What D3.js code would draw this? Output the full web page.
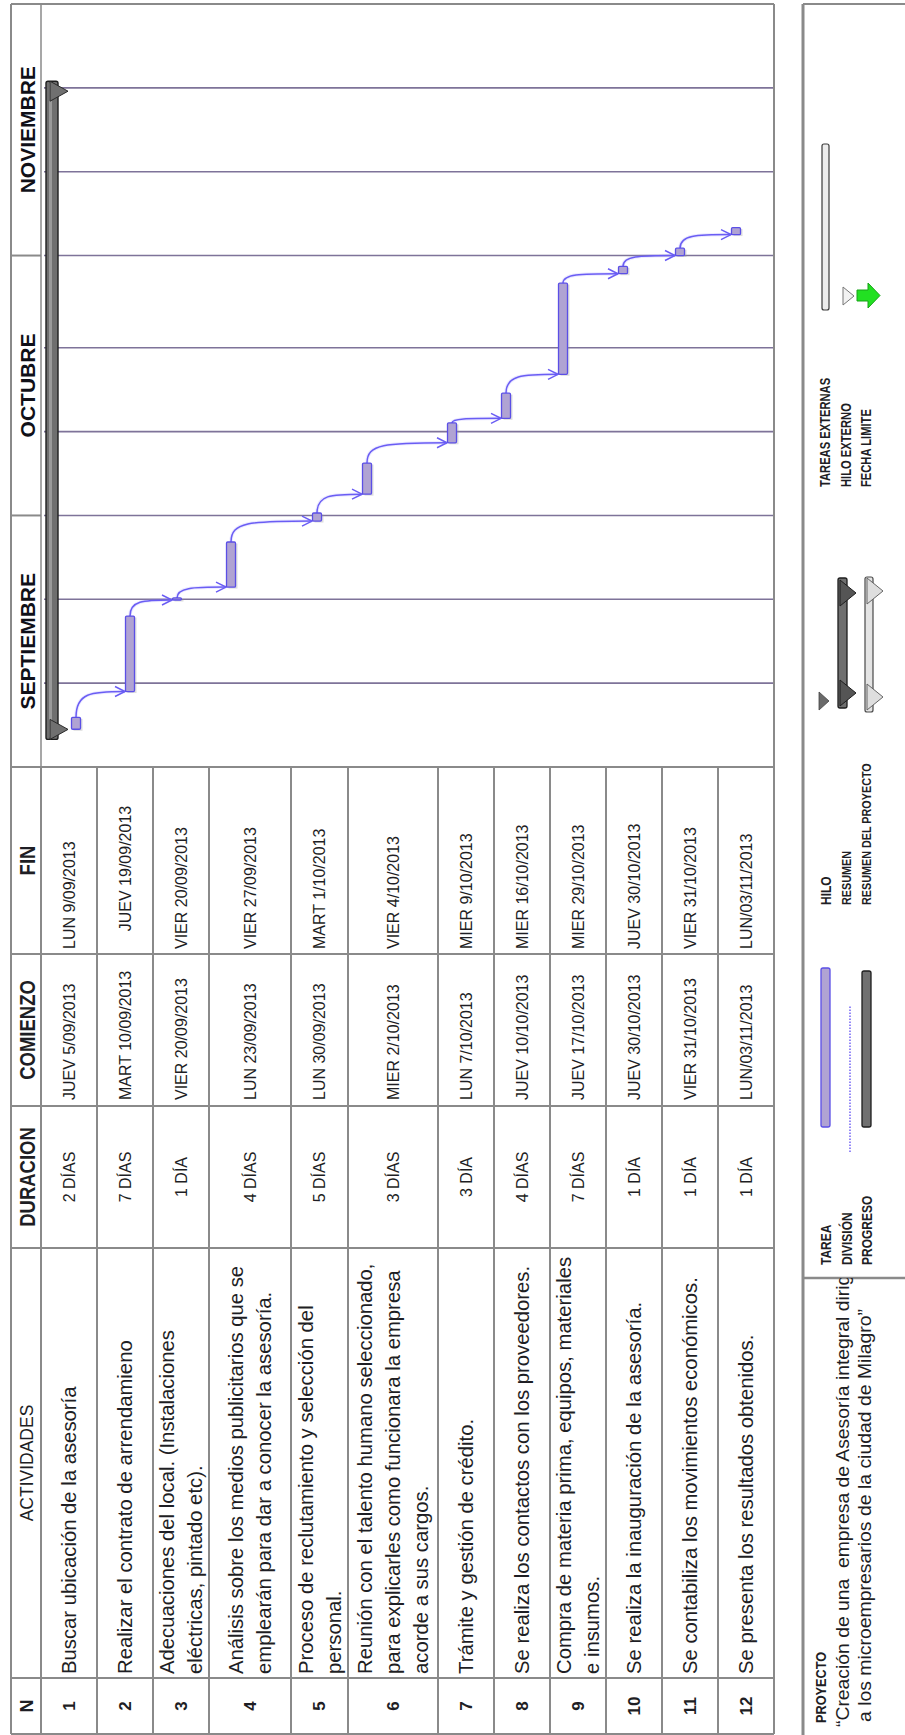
<!DOCTYPE html>
<html>
<head>
<meta charset="utf-8">
<script src="https://cdn.jsdelivr.net/npm/d3@7"></script>
<style>
  body { margin: 0; background: #fff; }
  svg { display: block; }
</style>
</head>
<body>
<svg id="chart" width="905" height="1735"></svg>
<script>
// ---------------- data ----------------
const taskNums = [1, 2, 3, 4, 5, 6, 7, 8, 9, 10, 11, 12];
const activities = [
  ["Buscar ubicación de la asesoría"],
  ["Realizar el contrato de arrendamieno"],
  ["Adecuaciones del local. (Instalaciones", "eléctricas, pintado etc)."],
  ["Análisis sobre los medios publicitarios que se", "emplearán para dar a conocer la asesoría."],
  ["Proceso de reclutamiento y selección del", "personal."],
  ["Reunión con el talento humano seleccionado,", "para explicarles como funcionara la empresa", "acorde a sus cargos."],
  ["Trámite y gestión de crédito."],
  ["Se realiza los contactos con los proveedores."],
  ["Compra de materia prima, equipos, materiales", "e insumos."],
  ["Se realiza la inauguración de la asesoría."],
  ["Se contabiliza los movimientos económicos."],
  ["Se presenta los resultados obtenidos."]
];
const durations = ["2 DÍAS", "7 DÍAS", "1 DÍA", "4 DÍAS", "5 DÍAS", "3 DÍAS", "3 DÍA", "4 DÍAS", "7 DÍAS", "1 DÍA", "1 DÍA", "1 DÍA"];
const startLabels = ["JUEV 5/09/2013", "MART 10/09/2013", "VIER 20/09/2013", "LUN 23/09/2013", "LUN 30/09/2013", "MIER 2/10/2013",
  "LUN 7/10/2013", "JUEV 10/10/2013", "JUEV 17/10/2013", "JUEV 30/10/2013", "VIER 31/10/2013", "LUN/03/11/2013"];
const endLabels = ["LUN 9/09/2013", "    JUEV 19/09/2013", "VIER 20/09/2013", "VIER 27/09/2013", "MART 1/10/2013", "VIER 4/10/2013",
  "MIER 9/10/2013", "MIER 16/10/2013", "MIER 29/10/2013", "JUEV 30/10/2013", "VIER 31/10/2013", "LUN/03/11/2013"];
const headers = ["N", "ACTIVIDADES", "DURACION", "COMIENZO", "FIN"];

// Gantt bars as plotted on the timeline
const barStart = ["2013-09-05T12:00", "2013-09-10T00:00", "2013-09-20T22:00", "2013-09-22T11:00", "2013-09-30T08:00", "2013-10-03T13:00",
  "2013-10-09T16:00", "2013-10-12T14:00", "2013-10-17T20:00", "2013-10-29T20:00", "2013-11-01T00:00", "2013-11-03T12:00"];
const barEnd = ["2013-09-06T22:00", "2013-09-19T00:00", "2013-09-21T04:00", "2013-09-27T20:00", "2013-10-01T07:00", "2013-10-07T06:00",
  "2013-10-12T01:00", "2013-10-15T14:00", "2013-10-28T17:00", "2013-10-30T17:00", "2013-11-01T21:00", "2013-11-04T08:00"];
const summaryStart = "2013-09-04T07:00";
const summaryEnd = "2013-11-21T19:00";

const months = ["SEPTIEMBRE", "OCTUBRE", "NOVIEMBRE"];
const gridDays = [1, 11, 21];   // timescale divided in thirds of month

const legendCol1 = ["TAREA", "DIVISIÓN", "PROGRESO"];
const legendCol2 = ["HILO", "RESUMEN", "RESUMEN DEL PROYECTO"];
const legendCol3 = ["TAREAS EXTERNAS", "HILO EXTERNO", "FECHA LIMITE"];
const projectTitle = "PROYECTO";
const projectLines = ["“Creación de una  empresa de Asesoría integral dirigida", "a los microempresarios de la ciudad de Milagro”"];

// ---------------- layout ----------------
const PAGE_W = 905, PAGE_H = 1735;
const FONT = "'Liberation Sans', Arial, sans-serif";
const INK = "#1e1e24";
const GRID = "#8a8a8a";
const colEdges = [1, 57, 487, 629, 781, 968];       // table columns along the page length
const headerTop = 11, headerBottom = 41;
const rowHeights = [56, 56, 56, 82, 57, 90, 56, 56, 56, 56, 56, 56];
const ganttRight = 1731;
const laneCenters = [76, 130, 177, 231, 317, 367, 452, 506, 563, 623, 680, 736];
const barThick = 9;

const svg = d3.select("#chart");
// the whole sheet is laid out landscape and turned a quarter turn
const g = svg.append("g").attr("transform", `translate(0,${PAGE_H}) rotate(-90)`);

const rowEdges = [headerBottom];
rowHeights.forEach(h => rowEdges.push(rowEdges[rowEdges.length - 1] + h));
const tableBottom = rowEdges[rowEdges.length - 1];

const x = d3.scaleTime()
  .domain([new Date(2013, 8, 1), new Date(2013, 11, 1)])
  .range([colEdges[5], ganttRight]);
const lane = d3.scaleOrdinal(taskNums, laneCenters);
const parse = d3.isoParse;

function label(sel, s, px, py, o = {}) {
  const t = sel.append("text")
    .attr("transform", `translate(${px},${py}) scale(${o.sx || 1},1)`)
    .attr("text-anchor", o.anchor || "start")
    .attr("dominant-baseline", "central")
    .style("font-family", o.family || FONT)
    .style("font-size", (o.size || 16) + "px")
    .style("font-weight", o.weight || "normal")
    .style("white-space", "pre")
    .attr("fill", o.fill || INK)
    .text(s);
  if (o.len) t.attr("textLength", o.len).attr("lengthAdjust", "spacingAndGlyphs");
  return t;
}
function line(sel, x1, y1, x2, y2, stroke, w) {
  return sel.append("line").attr("x1", x1).attr("y1", y1).attr("x2", x2).attr("y2", y2)
    .attr("stroke", stroke).attr("stroke-width", w);
}

// ---------------- table ----------------
const table = g.append("g");
rowEdges.forEach(r => line(table, colEdges[0], r, colEdges[5], r, GRID, 2));
line(table, colEdges[0], headerTop, ganttRight, headerTop, GRID, 2);
line(table, colEdges[0], tableBottom, ganttRight, tableBottom, GRID, 2);
colEdges.forEach(c => line(table, c, headerTop, c, tableBottom, GRID, 2));
line(table, ganttRight, headerTop, ganttRight, tableBottom, GRID, 2);

const colMid = i => (colEdges[i] + colEdges[i + 1]) / 2;
const hMid = (headerTop + headerBottom) / 2 + 1;
label(table, headers[0], colMid(0), hMid, { anchor: "middle", size: 18, weight: "bold" });
label(table, headers[1], colMid(1), hMid, { anchor: "middle", size: 17.5 });
label(table, headers[2], colMid(2), hMid, { anchor: "middle", size: 21.5, weight: "bold", sx: 0.86 });
label(table, headers[3], colMid(3), hMid, { anchor: "middle", size: 21.5, weight: "bold", sx: 0.86 });
label(table, headers[4], colMid(4), hMid, { anchor: "middle", size: 21.5, weight: "bold", sx: 0.86 });

taskNums.forEach((n, i) => {
  const cy = (rowEdges[i] + rowEdges[i + 1]) / 2;
  label(table, String(n), colMid(0), cy, { anchor: "middle", size: 17, weight: "bold" });
  const lines = activities[i];
  const lh = 28;
  lines.forEach((s, k) => {
    label(table, s, colEdges[1] + 4, cy + (k - (lines.length - 1) / 2) * lh, { size: 20.3 });
  });
  label(table, durations[i], colMid(2), cy, { anchor: "middle", size: 16 });
  label(table, startLabels[i], colEdges[3] + 6, cy, { size: 16 });
  label(table, endLabels[i], colEdges[4] + 5, cy, { size: 16 });
});

// ---------------- gantt ----------------
const gantt = g.append("g");
line(gantt, colEdges[5], headerBottom, ganttRight, headerBottom, GRID, 1.5);

const monthStarts = d3.timeMonth.range(new Date(2013, 8, 1), new Date(2013, 11, 1));
monthStarts.forEach((m, i) => {
  const next = d3.timeMonth.offset(m, 1);
  if (i > 0) line(gantt, x(m), headerTop, x(m), headerBottom, GRID, 2);
  label(gantt, months[i], (x(m) + x(next)) / 2, hMid, { anchor: "middle", size: 21, weight: "bold", fill: "#101018" });
});

// thirds-of-month grid
const gridDates = [];
monthStarts.forEach(m => gridDays.forEach(d => gridDates.push(new Date(m.getFullYear(), m.getMonth(), d))));
gantt.selectAll("line.grid")
  .data(gridDates.filter(d => d > x.domain()[0]))
  .join("line").attr("class", "grid")
  .attr("x1", d => x(d)).attr("x2", d => x(d))
  .attr("y1", headerBottom + 3).attr("y2", tableBottom - 1)
  .attr("stroke", "#7e7399").attr("stroke-width", 1.6);

// project summary bar
const sX0 = x(parse(summaryStart)), sX1 = x(parse(summaryEnd));
const sumY = 46, sumH = 12;
gantt.append("rect").attr("x", sX0).attr("y", sumY).attr("width", sX1 - sX0).attr("height", sumH)
  .attr("rx", 2).attr("fill", "#6f6f6f").attr("stroke", "#1e1e1e").attr("stroke-width", 1.4);
gantt.append("rect").attr("x", sX0 + 2).attr("y", sumY + 3).attr("width", sX1 - sX0 - 4).attr("height", 3)
  .attr("fill", "#9a9a9a");
[sX0, sX1 - 20].forEach(t0 => {
  gantt.append("path")
    .attr("d", `M${t0},${sumY + 4} L${t0 + 20},${sumY + 4} L${t0 + 10},${sumY + 22} Z`)
    .attr("fill", "#707070").attr("stroke", "#2a2a2a").attr("stroke-width", 1);
});

// task bars
const bars = taskNums.map((n, i) => ({
  n, x0: x(parse(barStart[i])), x1: x(parse(barEnd[i])), y: lane(n)
}));

// finish-to-start links
const linkG = gantt.append("g");
for (let i = 0; i < bars.length - 1; i++) {
  const a = bars[i], b = bars[i + 1];
  const x0 = a.x1, y0 = a.y, x3 = b.x0, y3 = b.y - barThick / 2 - 0.5;
  const dx = x3 - x0, dy = y3 - y0;
  const d = `M${x0},${y0} C${x0 + dx * 0.95},${y0} ${x3},${y0 + Math.min(dy * 0.3, 18)} ${x3},${y3}`;
  linkG.append("path").attr("d", d).attr("fill", "none").attr("stroke", "#8f86ff")
    .attr("stroke-width", 3.5).attr("stroke-opacity", 0.18);
  linkG.append("path").attr("d", d).attr("fill", "none").attr("stroke", "#6a5df4")
    .attr("stroke-width", 1.5);
  linkG.append("path").attr("d", `M${x3 - 5},${y3 - 10} L${x3},${y3} L${x3 + 5},${y3 - 10}`)
    .attr("fill", "none").attr("stroke", "#6a5df4").attr("stroke-width", 1.5);
}

const barG = gantt.append("g");
barG.selectAll("rect.shadow").data(bars).join("rect").attr("class", "shadow")
  .attr("x", d => d.x0 - 1.5).attr("y", d => d.y - barThick / 2 + 2)
  .attr("width", d => Math.max(d.x1 - d.x0, 2)).attr("height", barThick)
  .attr("fill", "#9d9d9d").attr("opacity", 0.35);
barG.selectAll("rect.task").data(bars).join("rect").attr("class", "task")
  .attr("x", d => d.x0).attr("y", d => d.y - barThick / 2)
  .attr("width", d => Math.max(d.x1 - d.x0, 2)).attr("height", barThick)
  .attr("rx", 1.2)
  .attr("fill", "#b0a3d3").attr("stroke", "#5b4fe6").attr("stroke-width", 1.3);

// ---------------- legend / project box ----------------
const leg = g.append("g");
const boxLeft = 803, divider = 457;
line(leg, 0, boxLeft, ganttRight, boxLeft, GRID, 3);
line(leg, ganttRight, boxLeft, ganttRight, PAGE_W, GRID, 2);
line(leg, divider, boxLeft, divider, PAGE_W, GRID, 2.5);

label(leg, projectTitle, 12, 821, { size: 15, weight: "bold", sx: 0.85 });
leg.append("clipPath").attr("id", "projClip")
  .append("rect").attr("x", 0).attr("y", boxLeft).attr("width", divider).attr("height", PAGE_W - boxLeft);
const projText = leg.append("g").attr("clip-path", "url(#projClip)");
label(projText, projectLines[0], 8, 842, { size: 19, len: 478 });
label(projText, projectLines[1], 13, 864, { size: 19, len: 413 });

const legRows = [826, 847, 867];
legendCol1.forEach((s, i) => label(leg, s, 470, legRows[i], { size: 15, weight: "bold", sx: 0.8 }));
legendCol2.forEach((s, i) => label(leg, s, 830, legRows[i], { size: i === 0 ? 15 : 13.5, weight: "bold", sx: 0.8 }));
legendCol3.forEach((s, i) => label(leg, s, 1248, legRows[i], { size: 14, weight: "bold", sx: 0.8 }));

// keys, column 1
leg.append("rect").attr("x", 608).attr("y", 821).attr("width", 159).attr("height", 9).attr("rx", 2)
  .attr("fill", "#b0a3d3").attr("stroke", "#5b4fe6").attr("stroke-width", 1.3);
line(leg, 583, 850, 730, 850, "#7a6cf5", 1.6).attr("stroke-dasharray", "1.5,1.5");
leg.append("rect").attr("x", 608).attr("y", 862).attr("width", 156).attr("height", 9).attr("rx", 2)
  .attr("fill", "#707070").attr("stroke", "#1e1e1e").attr("stroke-width", 1.3);

// keys, column 2
leg.append("path").attr("d", "M1025,819 L1043,819 L1034,829 Z").attr("fill", "#6a6a6a").attr("stroke", "#444").attr("stroke-width", 0.8);
leg.append("rect").attr("x", 1027).attr("y", 838).attr("width", 130).attr("height", 9).attr("rx", 2)
  .attr("fill", "#6f6f6f").attr("stroke", "#1e1e1e").attr("stroke-width", 1.3);
[1029, 1129].forEach(t0 => leg.append("path")
  .attr("d", `M${t0},${840} L${t0 + 26},${840} L${t0 + 13},${856} Z`)
  .attr("fill", "#555").attr("stroke", "#1e1e1e").attr("stroke-width", 1));
leg.append("rect").attr("x", 1023).attr("y", 865).attr("width", 135).attr("height", 8).attr("rx", 2)
  .attr("fill", "#e4e4e4").attr("stroke", "#4a4a4a").attr("stroke-width", 1.2);
[1025, 1131].forEach(t0 => leg.append("path")
  .attr("d", `M${t0},${867} L${t0 + 26},${867} L${t0 + 13},${883} Z`)
  .attr("fill", "#dedede").attr("stroke", "#666").attr("stroke-width", 1));

// keys, column 3
leg.append("rect").attr("x", 1425).attr("y", 822).attr("width", 166).attr("height", 7).attr("rx", 2)
  .attr("fill", "#ececec").attr("stroke", "#3a3a3a").attr("stroke-width", 1.2);
leg.append("path").attr("d", "M1430,843 L1448,843 L1439,854 Z").attr("fill", "#f2f2f2").attr("stroke", "#777").attr("stroke-width", 1);
leg.append("path")
  .attr("d", "M1434,857 L1445,857 L1445,868 L1452,868 L1439.5,880 L1427,868 L1434,868 Z")
  .attr("fill", "#22e022").attr("stroke", "#17a317").attr("stroke-width", 1);
</script>
</body>
</html>
